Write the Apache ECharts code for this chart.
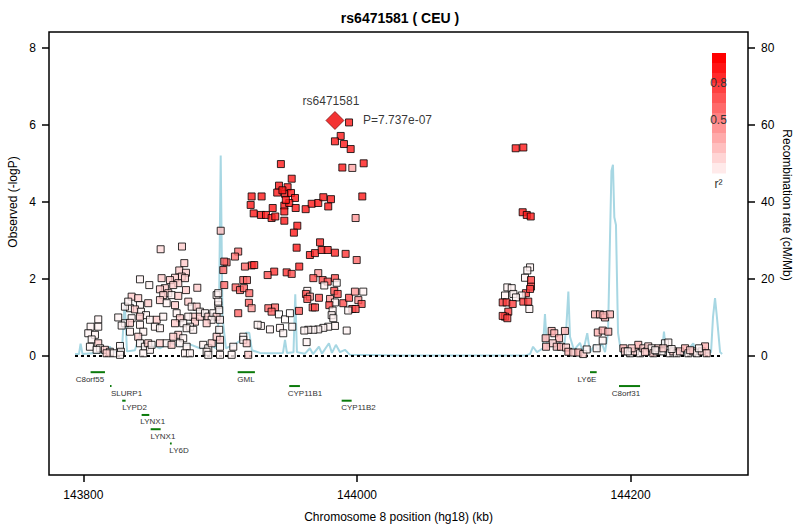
<!DOCTYPE html>
<html><head><meta charset="utf-8">
<script src="https://cdn.jsdelivr.net/npm/echarts@6/dist/echarts.min.js"></script>
<style>html,body{margin:0;padding:0;background:#fff}#c{width:800px;height:529px}</style>
</head><body><div id="c"></div>
<script>
// ---------- data (kb, -log10 P, r2) ----------
const leadSnp = [143983.9, 6.111];
const leadName = 'rs6471581';
const leadP = 'P=7.737e-07';

const farWestSnps = [[143810.9,0.95,0.05],[143810.9,0.76,0.05],[143805.3,0.76,0.05],[143803.6,0.59,0.05],[143808.5,0.55,0.05],[143806.1,0.43,0.05],[143804.8,0.24,0.05],[143810.9,0.33,0.2],[143812.2,0.20,0.05],[143815.8,0.16,0.2],[143819.4,0.11,0.05],[143821.9,0.07,0.05],[143817.0,0.07,0.2],[143826.8,0.26,0.05],[143827.5,0.11,0.05],[143826.8,0.03,0.05],[143809.7,0.16,0.05],[143825.5,1.00,0.05],[143830.4,0.85,0.05],[143828.0,0.79,0.05]];

const westSnps = [[143856.5,2.77,0.15],[143872.1,2.84,0.2],[143841.4,1.99,0.05],[143848.2,1.84,0.05],[143857.2,2.02,0.2],[143873.8,2.41,0.2],[143870.1,2.22,0.2],[143875.0,2.16,0.2],[143871.9,2.06,0.2],[143867.0,2.03,0.2],[143863.3,1.97,0.2],[143869.4,1.89,0.2],[143874.3,2.02,0.2],[143865.7,1.84,0.2],[143859.6,1.76,0.2],[143856.0,1.73,0.2],[143862.1,1.63,0.2],[143858.4,1.58,0.2],[143864.5,1.58,0.05],[143869.4,1.56,0.2],[143875.0,1.71,0.2],[143883.3,1.77,0.2],[143856.0,1.45,0.2],[143860.9,1.37,0.05],[143867.0,1.32,0.2],[143835.3,1.54,0.2],[143840.1,1.50,0.2],[143841.4,1.32,0.05],[143834.1,1.24,0.05],[143837.7,1.21,0.2],[143842.1,1.15,0.05],[143847.4,1.37,0.2],[143845.8,1.06,0.05],[143841.4,1.02,0.2],[143835.3,0.98,0.05],[143834.1,0.86,0.2],[143841.4,0.81,0.05],[143848.7,0.94,0.05],[143853.6,0.94,0.2],[143852.3,0.76,0.05],[143856.0,0.72,0.05],[143858.4,1.02,0.05],[143843.8,0.63,0.05],[143840.1,0.50,0.2],[143841.4,0.33,0.05],[143845.0,0.24,0.05],[143847.4,0.33,0.2],[143848.7,0.16,0.05],[143843.8,0.07,0.05],[143834.1,0.63,0.05],[143830.4,1.28,0.05],[143832.8,1.41,0.05],[143856.0,0.33,0.2],[143849.9,0.29,0.05]];

const midWestSnps = [[143876.7,1.41,0.2],[143879.2,1.28,0.05],[143882.8,1.28,0.2],[143885.2,1.15,0.05],[143880.3,1.02,0.2],[143876.7,1.02,0.05],[143881.6,0.89,0.2],[143877.9,0.76,0.05],[143885.2,1.02,0.2],[143888.9,1.11,0.05],[143891.3,1.02,0.2],[143895.0,1.11,0.05],[143897.4,1.02,0.2],[143893.8,0.94,0.05],[143890.1,0.85,0.2],[143868.2,1.11,0.05],[143870.6,0.98,0.2],[143873.0,0.85,0.05],[143867.0,0.85,0.2],[143875.5,0.72,0.05],[143880.3,0.68,0.05],[143869.4,0.55,0.2],[143873.0,0.46,0.05],[143865.7,0.50,0.2],[143860.9,0.33,0.05],[143864.5,0.29,0.2],[143870.6,0.33,0.05],[143875.5,0.24,0.05],[143874.3,0.07,0.05],[143877.9,0.07,0.05],[143887.6,0.29,0.05],[143891.3,0.20,0.05],[143893.8,0.33,0.2],[143897.4,0.50,0.2],[143890.1,0.11,0.05],[143891.3,0.03,0.05],[143897.4,1.58,0.05],[143898.6,1.32,0.05]];

const gmlSnps = [[143900.4,3.25,0.25],[143898.6,1.63,0.05],[143898.6,1.41,0.05],[143899.3,1.19,0.05],[143899.9,0.94,0.1],[143899.3,0.68,0.05],[143899.9,0.42,0.2],[143899.9,0.24,0.05],[143899.9,0.03,0.05],[143916.9,0.50,0.05],[143916.9,0.42,0.05],[143919.4,0.33,0.2],[143920.5,0.03,0.2],[143909.6,0.24,0.05],[143908.4,0.03,0.05]];

const peakSnps = [[143994.2,6.06,0.9],[143988.1,5.71,0.9],[143983.9,5.57,0.9],[143990.5,5.50,0.9],[143995.4,5.37,0.9],[143989.3,4.89,0.9],[143996.6,4.88,0.35],[144004.9,5.00,0.9],[143944.4,4.98,0.9],[143952.3,4.60,0.9],[143943.0,4.42,0.9],[143949.3,4.38,0.9],[143923.0,4.14,0.9],[143930.3,4.14,0.9],[143922.3,3.92,0.9],[143941.7,4.24,0.9],[143947.4,4.21,0.9],[143951.8,4.23,0.9],[143954.7,4.10,0.9],[143946.9,3.90,0.9],[143950.5,3.97,0.9],[143955.2,3.84,0.9],[143938.4,3.84,0.9],[143929.8,3.66,0.9],[143933.5,3.66,0.9],[143937.6,3.58,0.9],[143946.9,3.75,0.9],[143946.9,3.51,0.9],[143962.5,3.81,0.9],[143966.9,3.95,0.9],[143971.7,3.97,0.9],[143975.4,4.12,0.9],[143981.0,4.07,0.9],[143979.0,3.88,0.9],[144003.9,4.14,0.9],[143999.0,3.58,0.4],[143956.4,3.38,0.9],[143953.9,3.20,0.9],[143924.5,3.70,0.9],[143940.3,3.62,0.85],[143948.0,4.05,0.9],[143945.5,4.30,0.9]];

const cypSnps = [[143955.9,2.81,0.9],[143973.0,2.95,0.85],[143965.6,2.62,0.85],[143969.3,2.67,0.85],[143974.2,2.75,0.85],[143978.6,2.75,0.85],[143983.9,2.68,0.85],[143991.7,2.65,0.8],[143999.8,2.49,0.6],[143957.8,2.32,0.85],[143948.6,2.17,0.8],[143952.3,2.13,0.7],[143939.5,2.19,0.8],[143934.7,2.10,0.7],[143923.0,2.35,0.8],[143924.9,2.36,0.8],[143918.1,2.32,0.6],[143913.2,2.71,0.55],[143910.8,2.58,0.55],[143904.7,2.43,0.6],[143903.0,2.45,0.6],[143902.3,2.23,0.6],[143903.0,1.84,0.6],[143911.3,1.78,0.6],[143914.5,1.71,0.6],[143917.4,1.76,0.6],[143921.3,1.63,0.6],[143916.9,1.97,0.6],[143919.6,1.97,0.6],[143921.0,1.38,0.6],[143913.2,1.11,0.6],[143923.0,1.24,0.4],[143935.2,1.24,0.6],[143940.1,1.26,0.6],[143937.6,1.15,0.6],[143943.0,1.08,0.02],[143947.4,0.95,0.02],[143951.0,1.11,0.02],[143957.6,1.17,0.65],[143971.7,2.15,0.4],[143968.1,2.02,0.7],[143974.9,1.97,0.7],[143978.6,1.93,0.7],[143983.9,2.02,0.7],[143985.2,1.90,0.05],[143976.1,1.83,0.05],[143963.7,1.69,0.05],[143962.7,1.61,0.7],[143965.6,1.54,0.4],[143963.7,1.48,0.7],[143972.2,1.51,0.7],[143967.6,1.26,0.7],[143969.3,1.26,0.7],[143980.3,1.48,0.4],[143983.4,1.69,0.7],[143985.9,1.61,0.7],[143983.9,1.39,0.05],[143979.8,1.32,0.7],[143990.0,1.37,0.7],[143994.2,1.51,0.7],[143998.5,1.67,0.4],[144004.6,1.67,0.05],[144001.0,1.45,0.4],[144003.4,1.35,0.7],[143996.6,1.22,0.7],[143999.0,1.22,0.7],[143993.6,1.18,0.05],[143982.2,1.18,0.05],[143981.5,1.06,0.05],[143982.7,0.98,0.05],[143983.9,0.78,0.05],[143979.0,0.76,0.05],[143975.4,0.73,0.05],[143971.7,0.69,0.05],[143968.1,0.68,0.05],[143964.4,0.68,0.05],[143961.5,0.66,0.05],[143992.5,0.66,0.05],[143963.2,0.36,0.05],[143936.4,0.69,0.05],[143929.8,0.78,0.05],[143927.4,0.81,0.05],[143943.7,0.73,0.05],[143946.1,0.59,0.05],[143952.7,0.76,0.05]];

const eastSnps = [[144116.0,5.39,0.9],[144121.6,5.41,0.9],[144121.1,3.73,0.9],[144124.1,3.66,0.9],[144127.0,3.62,0.9],[144126.5,2.30,0.05],[144124.5,2.22,0.05],[144122.8,2.03,0.05],[144127.2,1.97,0.75],[144127.2,1.80,0.75],[144123.5,1.63,0.75],[144126.5,1.74,0.75],[144120.4,1.57,0.05],[144109.9,1.78,0.05],[144113.1,1.76,0.05],[144114.3,1.61,0.05],[144108.2,1.57,0.05],[144116.2,1.52,0.05],[144121.6,1.41,0.75],[144125.2,1.41,0.75],[144106.5,1.39,0.75],[144109.4,1.39,0.75],[144113.8,1.35,0.75],[144110.6,1.15,0.75],[144108.2,1.02,0.75],[144106.5,1.04,0.75],[144109.9,0.98,0.75],[144126.0,1.22,0.05]];

const ly6eSnps = [[144142.3,0.65,0.3],[144144.2,0.59,0.3],[144152.0,0.65,0.3],[144137.9,0.46,0.3],[144147.7,0.46,0.3],[144143.1,0.33,0.2],[144138.2,0.24,0.3],[144146.0,0.24,0.25],[144149.1,0.24,0.3],[144152.8,0.22,0.2],[144154.5,0.11,0.3],[144158.1,0.09,0.2],[144161.8,0.09,0.3],[144165.4,0.05,0.2],[144167.9,0.17,0.05],[144175.2,0.20,0.05],[144179.6,0.40,0.05],[144174.0,1.08,0.3],[144177.6,1.08,0.3],[144181.3,1.00,0.3],[144184.9,1.08,0.3],[144180.1,1.06,0.3],[144176.0,0.61,0.3],[144179.6,0.66,0.3],[144183.7,0.63,0.3]];

const farEastSnps = [[144194.7,0.20,0.3],[144195.9,0.12,0.2],[144199.6,0.07,0.05],[144203.2,0.12,0.2],[144205.6,0.29,0.3],[144206.9,0.07,0.05],[144209.3,0.20,0.2],[144211.8,0.12,0.05],[144212.9,0.25,0.2],[144215.4,0.20,0.05],[144216.6,0.07,0.2],[144219.1,0.12,0.05],[144220.3,0.20,0.2],[144222.7,0.12,0.05],[144225.1,0.33,0.05],[144227.6,0.35,0.05],[144223.9,0.20,0.2],[144228.8,0.07,0.05],[144231.2,0.12,0.2],[144233.7,0.07,0.05],[144236.1,0.12,0.2],[144239.8,0.20,0.3],[144242.2,0.07,0.05],[144245.8,0.12,0.2],[144248.3,0.07,0.05],[144252.0,0.12,0.2],[144254.4,0.25,0.3],[144255.6,0.07,0.2],[144200.8,0.20,0.2],[144197.9,0.12,0.05],[144210.5,0.10,0.2],[144218.0,0.15,0.05],[144230.0,0.18,0.05],[144243.5,0.15,0.2],[144250.0,0.20,0.05]];

// recombination rate (cM/Mb)
const recombPos = [143793.9,143796.8,143798.0,143799.4,143808.5,143818.0,143819.4,143821.0,143828.2,143830.2,143831.9,143837.7,143841.4,143842.8,143848.7,143856.0,143863.3,143870.6,143877.9,143885.2,143892.5,143896.9,143899.1,143900.4,143901.7,143904.2,143910.8,143916.7,143918.9,143921.3,143923.2,143929.1,143936.4,143945.9,143947.4,143948.8,143953.6,143954.9,143956.1,143962.0,143965.6,143967.8,143972.2,143974.4,143979.5,143981.7,143984.6,143987.6,143991.2,143994.9,144031.4,144122.8,144126.5,144128.7,144131.6,144135.9,144137.4,144138.9,144142.6,144145.5,144148.4,144151.3,144153.1,144154.5,144155.7,144158.6,144163.0,144165.2,144168.3,144170.3,144174.0,144176.2,144178.9,144181.3,144183.5,144184.9,144186.0,144187.1,144188.1,144189.3,144190.8,144193.0,144199.6,144210.5,144217.8,144222.9,144224.4,144225.8,144232.5,144239.8,144245.8,144247.8,144254.4,144258.8,144260.2,144261.7,144263.1,144265.4,144266.9];
const recombRate = [0.5,0.5,3.2,0.5,0.8,1.0,2.5,1.0,1.2,14,1.2,1.5,5.7,2,3,2,3.5,2.5,3,2,3,2,10,52,10,2,3,4.5,6,6,1.5,0.8,0.7,0.8,4.2,0.8,1,16,1,0.6,2,0.5,2.4,0.6,3.3,0.8,2.9,1,1.6,0.3,0.1,0.1,0.5,2.4,1,2,10.9,2,4,1.5,3.5,2,8,16.7,5,1.5,3.4,1,5.9,1,3,1.5,3.4,1,6,30,48,49.6,36,34,6,1,0.8,1.5,0.8,1,6.3,1,1.5,0.8,3.3,1,0.8,1,10,15,10,1,0.5];

// baseline extent (kb)
const baseline = [143793.9, 144265.4];

// genes
const geneNames = ['C8orf55','SLURP1','LYPD2','LYNX1','LYNX1','LY6D','GML','CYP11B1','CYP11B2','LY6E','C8orf31'];
const geneStart = [143805.3,143819.5,143828.4,143842.6,143849.2,143863.3,143912.8,143950.5,143988.8,144170.3,144191.5];
const geneEnd   = [143815.8,143820.6,143830.9,143848.2,143856.5,143864.6,143925.4,143958.3,143996.1,144175.2,144206.9];
const geneRow   = [-0.42,-0.78,-1.16,-1.53,-1.90,-2.27,-0.42,-0.78,-1.16,-0.42,-0.78];
const geneLabelPos = [143804.8,143831.6,143837.5,143850.7,143858.2,143869.9,143918.9,143962.0,144001.1,144168.1,144196.6];

// axis ticks
const xTicks = [143800, 144000, 144200];
const yTicks = [0, 2, 4, 6, 8];
const recTicks = [0, 20, 40, 60, 80];
const legendTicks = ['0.8', '0.5'];

// ---------- chart ----------
const FONT = 'Liberation Sans, Arial, Helvetica, sans-serif';
function r2Color(r) { const v = Math.round(255 * (1 - r)); return 'rgb(255,' + v + ',' + v + ')'; }

const allSnps = [].concat(farWestSnps, westSnps, midWestSnps, gmlSnps, cypSnps, peakSnps, eastSnps, ly6eSnps, farEastSnps);
const snpData = allSnps.map(d => ({ value: [d[0], d[1]], itemStyle: { color: r2Color(d[2]) } }));

const chart = echarts.init(document.getElementById('c'), null, { renderer: 'svg' });

const legendRects = [];
for (let i = 0; i < 12; i++) {
  legendRects.push({ type: 'rect', shape: { x: 712, y: 53 + i * 10, width: 14, height: 10.5 },
    style: { fill: r2Color(1 - i / 12), stroke: null }, silent: true, z: 10 });
}

const option = {
  animation: false,
  backgroundColor: '#fff',
  textStyle: { fontFamily: FONT },
  title: { text: 'rs6471581 ( CEU )', left: 'center', top: 6,
    textStyle: { fontSize: 14, fontWeight: 'bold', color: '#000', fontFamily: FONT } },
  grid: { left: 49, right: 52, top: 32, bottom: 54, containLabel: false, outerBoundsMode: 'none',
    show: true, borderColor: '#000', borderWidth: 1.5, backgroundColor: 'transparent' },
  xAxis: {
    type: 'value', min: 143774.9, max: 144285.8,
    axisLine: { show: false, onZero: false }, splitLine: { show: false },
    axisTick: { show: true, length: 7, customValues: xTicks, lineStyle: { color: '#000', width: 1.5 } },
    axisLabel: { customValues: xTicks, margin: 14, fontSize: 12, color: '#000', fontFamily: FONT,
      formatter: v => String(v) }
  },
  yAxis: [
    { type: 'value', min: -3.088, max: 8.407, position: 'left',
      axisLine: { show: false, onZero: false }, splitLine: { show: false },
      axisTick: { show: true, length: 7, customValues: yTicks, lineStyle: { color: '#000', width: 1.5 } },
      axisLabel: { customValues: yTicks, margin: 13, fontSize: 12, color: '#000', fontFamily: FONT } },
    { type: 'value', min: -30.88, max: 84.07, position: 'right',
      axisLine: { show: false, onZero: false }, splitLine: { show: false },
      axisTick: { show: true, length: 7, customValues: recTicks, lineStyle: { color: '#000', width: 1.5 } },
      axisLabel: { customValues: recTicks, margin: 13, fontSize: 12, color: '#000', fontFamily: FONT } }
  ],
  graphic: [
    { type: 'text', x: 13, y: 202, rotation: Math.PI / 2,
      style: { text: 'Observed (-logP)', fill: '#000', font: '12px ' + FONT, align: 'center', verticalAlign: 'middle' } },
    { type: 'text', x: 787, y: 205, rotation: -Math.PI / 2,
      style: { text: 'Recombination rate (cM/Mb)', fill: '#000', font: '12px ' + FONT, align: 'center', verticalAlign: 'middle' } },
    { type: 'text', x: 398.5, y: 516.5,
      style: { text: 'Chromosome 8 position (hg18) (kb)', fill: '#000', font: '12px ' + FONT, align: 'center', verticalAlign: 'middle' } },
    ...legendRects,
    { type: 'text', x: 718.5, y: 83, z: 11, style: { text: legendTicks[0], fill: '#333', font: '12px ' + FONT, align: 'center', verticalAlign: 'middle' } },
    { type: 'text', x: 718.5, y: 120, z: 11, style: { text: legendTicks[1], fill: '#333', font: '12px ' + FONT, align: 'center', verticalAlign: 'middle' } },
    { type: 'text', x: 718.5, y: 184, z: 11, style: { text: 'r²', fill: '#333', font: '12px ' + FONT, align: 'center', verticalAlign: 'middle' } }
  ],
  series: [
    { name: 'recomb', type: 'line', yAxisIndex: 1, z: 1, showSymbol: false, symbol: 'none',
      data: recombPos.map((p, i) => [p, recombRate[i]]),
      lineStyle: { color: '#A7D7E3', width: 2 }, silent: true },
    { name: 'baseline', type: 'line', z: 2, showSymbol: false, symbol: 'none',
      data: [[baseline[0], 0], [baseline[1], 0]],
      lineStyle: { color: '#000', width: 2, type: [3, 3] }, silent: true },
    { name: 'genes', type: 'custom', z: 3,
      data: geneNames.map((n, i) => [geneStart[i], geneEnd[i], geneRow[i], geneLabelPos[i]]),
      encode: { x: [0, 1, 3], y: 2 },
      renderItem: function (params, api) {
        const i = params.dataIndex;
        const s = api.coord([api.value(0), api.value(2)]);
        const e = api.coord([api.value(1), api.value(2)]);
        const l = api.coord([api.value(3), api.value(2)]);
        return { type: 'group', children: [
          { type: 'line', shape: { x1: s[0], y1: s[1], x2: Math.max(e[0], s[0] + 1.5), y2: e[1] },
            style: { stroke: '#0b7a0b', lineWidth: 2 } },
          { type: 'text', x: l[0], y: l[1] + 7,
            style: { text: geneNames[i], fill: '#333', font: '8px ' + FONT, align: 'center', verticalAlign: 'middle' } }
        ] };
      } },
    { name: 'snps', type: 'scatter', z: 4, symbol: 'rect', symbolSize: 7,
      data: snpData, itemStyle: { borderColor: '#000', borderWidth: 1 } },
    { name: 'lead', type: 'scatter', z: 5, symbol: 'diamond', symbolSize: 18,
      data: [leadSnp],
      itemStyle: { color: '#F00000', borderColor: '#600', borderWidth: 0.8 },
      label: { show: true, position: 'top', distance: 4, offset: [-4, 0], formatter: leadName,
        fontSize: 12, color: '#000', fontFamily: FONT, textBorderWidth: 0 } },
    { name: 'leadP', type: 'scatter', z: 5, symbol: 'diamond', symbolSize: 18,
      data: [leadSnp], itemStyle: { color: 'rgba(0,0,0,0)', borderWidth: 0 },
      label: { show: true, position: 'right', distance: 19, formatter: leadP,
        fontSize: 12, color: '#000', fontFamily: FONT, textBorderWidth: 0 } }
  ]
};
chart.setOption(option);
</script>
</body></html>
